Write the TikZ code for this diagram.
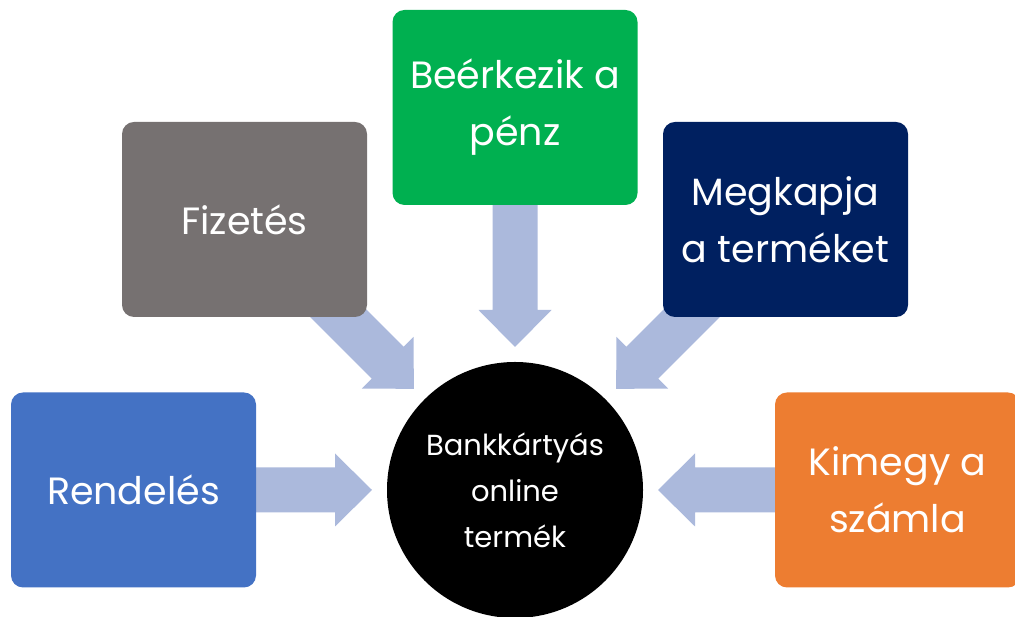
\documentclass[tikz,border=0pt]{standalone}
\usepackage{fontspec}
\setmainfont{Poppins}
\usepackage{tikz}
\usetikzlibrary{calc,backgrounds}
\definecolor{rendelesblue}{HTML}{4472C4}
\definecolor{fizetesgray}{HTML}{767171}
\definecolor{penzgreen}{HTML}{00B050}
\definecolor{termeknavy}{HTML}{002060}
\definecolor{szamlaorange}{HTML}{ED7D31}
\definecolor{arrowblue}{HTML}{ABB9DC}
\tikzset{
  tile/.style={fill=#1, text=white, minimum width=245pt, minimum height=195pt, rounded corners=12pt, align=center, inner sep=0pt, font=\fontsize{38}{57}\selectfont},
  hub/.style={circle, fill=black, text=white, minimum size=256pt, align=center, inner sep=0pt, font=\fontsize{29}{46}\selectfont},
  blockfill/.style={fill=arrowblue},
}
% block arrow from node #1 towards node #2
\newcommand{\blockarrow}[2]{%
  \coordinate (tip) at ($(#2)!143pt!(#1)$);
  \coordinate (hb) at ($(tip)!37pt!(#1)$);
  \fill[blockfill] ($(#1)!22.5pt!90:(tip)$) -- ($(hb)!22.5pt!90:(tip)$) -- ($(hb)!36.5pt!90:(tip)$) -- (tip)
    -- ($(hb)!36.5pt!-90:(tip)$) -- ($(hb)!22.5pt!-90:(tip)$) -- ($(#1)!22.5pt!-90:(tip)$) -- cycle;}
\begin{document}
\begin{tikzpicture}[x=1pt,y=1pt]
  \useasboundingbox (0,0) rectangle (1015,617);
  \node[hub] (kartya) at (515,127) {Bankkártyás\\online\\termék};
  \node[tile=rendelesblue] (rendeles) at (133.5,127) {Rendelés};
  \node[tile=fizetesgray] (fizetes) at (244.5,397.5) {Fizetés};
  \node[tile=penzgreen] (penz) at (515,509.5) {Beérkezik a\\pénz};
  \node[tile=termeknavy] (termek) at (785.5,397.5) {Megkapja\\a terméket};
  \node[tile=szamlaorange] (szamla) at (897.5,127) {Kimegy a\\számla};
  \begin{pgfonlayer}{background}
    \foreach \b in {rendeles,fizetes,penz,termek,szamla} {\blockarrow{\b}{kartya}}
  \end{pgfonlayer}
\end{tikzpicture}
\end{document}
